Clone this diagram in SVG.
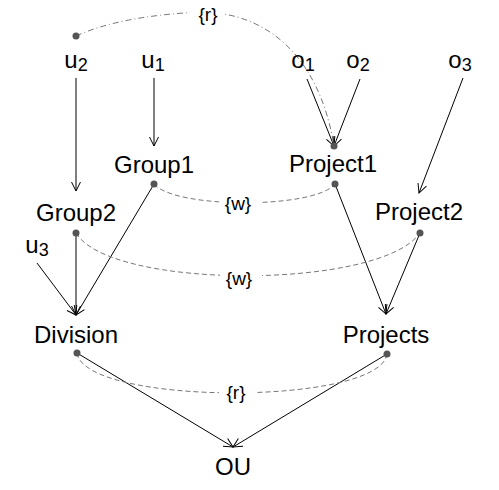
<svg xmlns="http://www.w3.org/2000/svg" width="499" height="490" viewBox="0 0 499 490">
<defs>
<style>
text{font-family:"Liberation Sans",Arial,sans-serif;fill:#000}
.n{font-size:24px;text-anchor:middle}
.s{font-size:18px}
.lbl{font-size:19px;text-anchor:middle}
.e{stroke:#000;stroke-width:1;fill:none;marker-end:url(#ah)}
.d{stroke:#777;stroke-width:1;fill:none;stroke-dasharray:5,3}
.dd{stroke:#777;stroke-width:1;fill:none;stroke-dasharray:6,3,1,3}
.dot{fill:#555}
.bg{fill:#fff}
</style>
<marker id="ah" markerUnits="userSpaceOnUse" markerWidth="12" markerHeight="12" refX="10" refY="5" orient="auto" overflow="visible">
<path d="M1,0.5 L10,5 L1,9.5" fill="none" stroke="#000" stroke-width="1"/>
</marker>
</defs>
<g id="connectors">
<path class="e" d="M76,78 L76,191"/>
<path class="e" d="M154,78 L154,146"/>
<path class="e" d="M307,79 L334,146"/>
<path class="e" d="M360,79 L334,146"/>
<path class="e" d="M463,78 L419,193"/>
<path class="e" d="M154,184 L76,315"/>
<path class="e" d="M76,233 L76,315"/>
<path class="e" d="M37,263 L76,315"/>
<path class="e" d="M335,184 L386,314"/>
<path class="e" d="M420,233 L386,314"/>
<path class="e" d="M77,353 L233,447"/>
<path class="e" d="M387,354 L233,447"/>
<path class="dd" d="M76,36 Q120,16 200,12 C270,12 320,60 334,146"/>
<path class="d" d="M154,184 C175,209 315,209 335,184"/>
<path class="d" d="M76,233 C110,290 380,290 420,233"/>
<path class="d" d="M77,353 C85,406 380,406 387,354"/>
<rect class="bg" x="190" y="2" width="35" height="24"/>
<text class="lbl" x="208" y="21">{r}</text>
<rect class="bg" x="219" y="191" width="42" height="24"/>
<text class="lbl" x="238" y="210">{w}</text>
<rect class="bg" x="220" y="266" width="42" height="24"/>
<text class="lbl" x="239" y="285">{w}</text>
<rect class="bg" x="219" y="380" width="36" height="24"/>
<text class="lbl" x="236" y="399">{r}</text>
</g>
<g id="u2"><circle class="dot" cx="76" cy="36" r="3.5"/><text class="n" x="76" y="68">u<tspan class="s" dy="3">2</tspan></text></g>
<g id="u1"><text class="n" x="153" y="68">u<tspan class="s" dy="3">1</tspan></text></g>
<g id="o1"><text class="n" x="303" y="68">o<tspan class="s" dy="3">1</tspan></text></g>
<g id="o2"><text class="n" x="358" y="68">o<tspan class="s" dy="3">2</tspan></text></g>
<g id="o3"><text class="n" x="460" y="68">o<tspan class="s" dy="3">3</tspan></text></g>
<g id="u3"><text class="n" x="37" y="253">u<tspan class="s" dy="3">3</tspan></text></g>
<g id="Group1"><text class="n" x="154" y="173">Group1</text><circle class="dot" cx="154" cy="184" r="3.5"/></g>
<g id="Project1"><circle class="dot" cx="334" cy="146" r="3.5"/><text class="n" x="333" y="172">Project1</text><circle class="dot" cx="335" cy="184" r="3.5"/></g>
<g id="Group2"><text class="n" x="76" y="221">Group2</text><circle class="dot" cx="76" cy="233" r="3.5"/></g>
<g id="Project2"><text class="n" x="419" y="220">Project2</text><circle class="dot" cx="420" cy="233" r="3.5"/></g>
<g id="Division"><text class="n" x="76" y="343">Division</text><circle class="dot" cx="77" cy="353" r="3.5"/></g>
<g id="Projects"><text class="n" x="386" y="343">Projects</text><circle class="dot" cx="387" cy="354" r="3.5"/></g>
<g id="OU"><text class="n" x="233" y="475">OU</text></g>
</svg>
